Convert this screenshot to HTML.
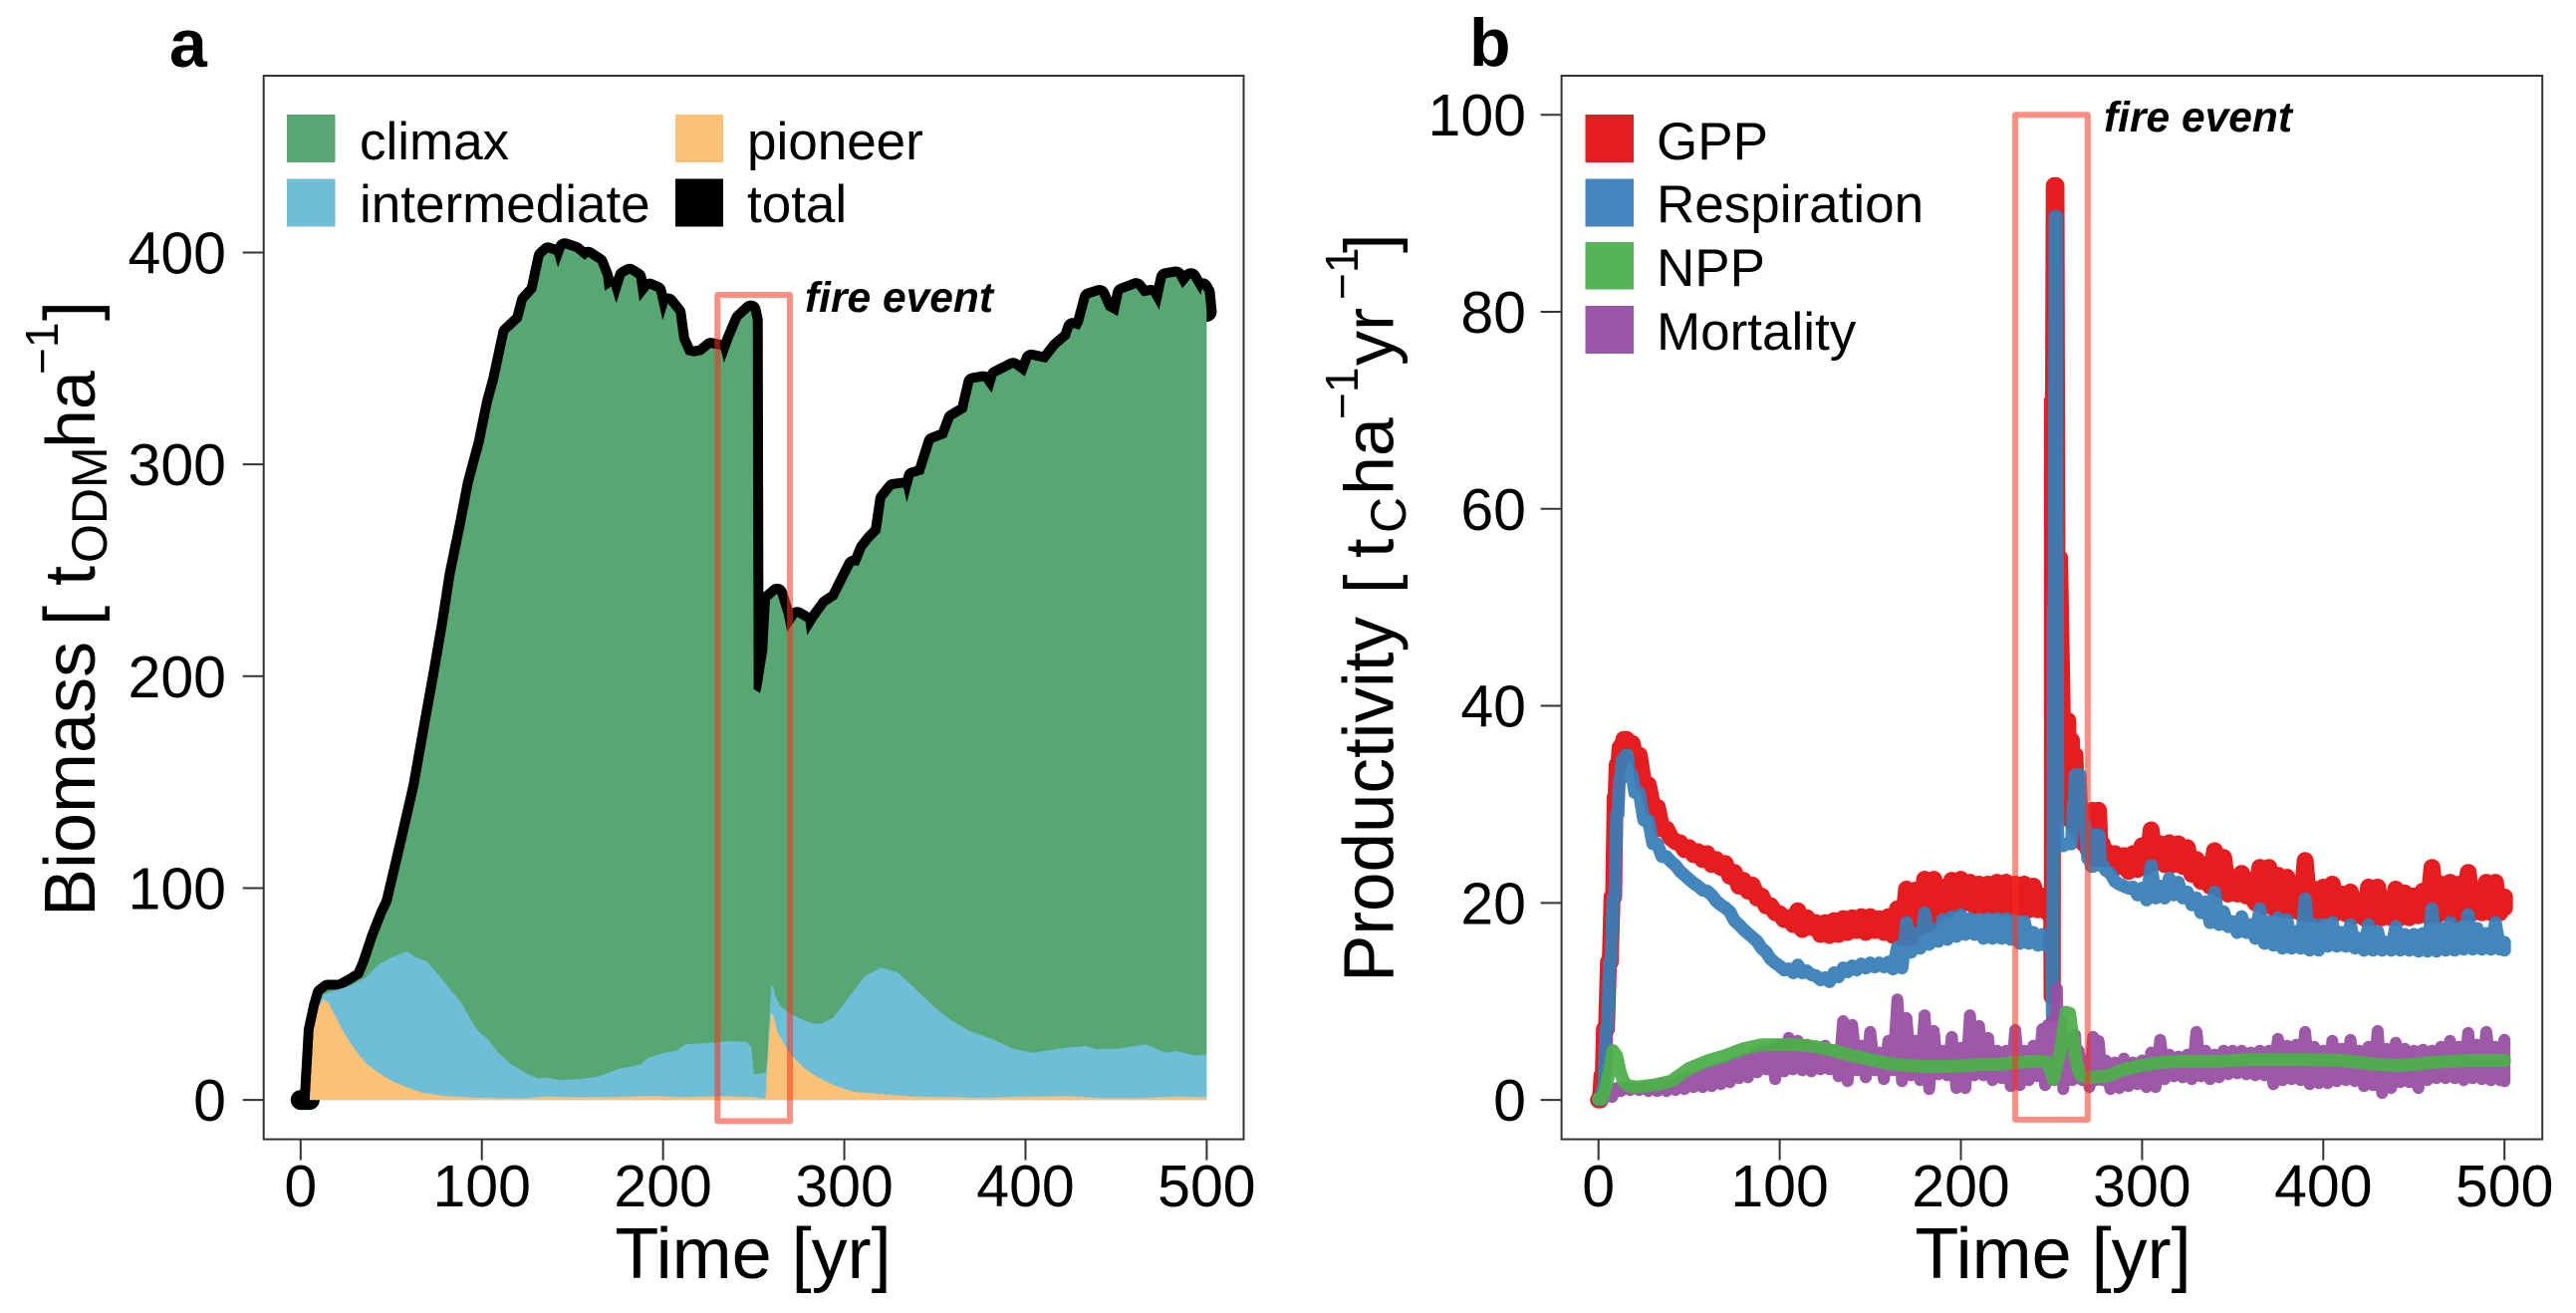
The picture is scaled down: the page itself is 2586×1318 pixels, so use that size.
<!DOCTYPE html>
<html lang="en">
<head>
<meta charset="utf-8">
<title>Biomass and productivity over time with fire event</title>
<style>
html,body{margin:0;padding:0;background:#fff}
svg{display:block}
text{font-family:"Liberation Sans",Arial,sans-serif;fill:#000}
.tick{font-size:59px}
.title{font-size:70px}
.xt{font-size:72px}
.leg{font-size:53px}
.fire{font-size:42.5px;font-weight:bold;font-style:italic}
.pl{font-size:68px;font-weight:bold}
</style>
</head>
<body>
<svg id="fig" xmlns="http://www.w3.org/2000/svg" width="2586" height="1318" viewBox="0 0 2586 1318">
<rect width="2586" height="1318" fill="#fff"/>
<g id="panelA"></g>
<g id="panelB"></g>

<text class="pl" x="170" y="67">a</text>
<text class="pl" x="1475" y="66">b</text>

<text class="xt" x="756" y="1283" text-anchor="middle">Time [yr]</text>
<text class="xt" x="2061" y="1283" text-anchor="middle">Time [yr]</text>

<g>
<text transform="translate(95,920) rotate(-90)" style="font-size:72px">Biomass</text>
<text transform="translate(95,628) rotate(-90)" style="font-size:72px">[</text>
<text transform="translate(95,588) rotate(-90)" style="font-size:72px">t</text>
<text transform="translate(107,565) rotate(-90)" style="font-size:50px">ODM</text>
<text transform="translate(95,450) rotate(-90)" style="font-size:70px">ha</text>
<text transform="translate(58,376) rotate(-90)" style="font-size:46px">−1</text>
<text transform="translate(95,322) rotate(-90)" style="font-size:72px">]</text>
</g>

<g>
<text transform="translate(1398.5,986) rotate(-90)" style="font-size:71px">Productivity</text>
<text transform="translate(1398.5,596) rotate(-90)" class="title">[</text>
<text transform="translate(1398.5,560) rotate(-90)" class="title">t</text>
<text transform="translate(1411,535) rotate(-90)" style="font-size:50px">C</text>
<text transform="translate(1398.5,497) rotate(-90)" class="title">ha</text>
<text transform="translate(1363,421) rotate(-90)" style="font-size:46px">−1</text>
<text transform="translate(1398.5,367) rotate(-90)" class="title">yr</text>
<text transform="translate(1363,301) rotate(-90)" style="font-size:46px">−1</text>
<text transform="translate(1398.5,254) rotate(-90)" class="title">]</text>
</g>

<g>
<g><rect x="288" y="115" width="48.5" height="48" fill="#57A773"/><text class="leg" x="361" y="160">climax</text></g>
<g><rect x="288" y="179.5" width="48.5" height="48" fill="#6DBED6"/><text class="leg" x="361" y="223">intermediate</text></g>
<g><rect x="678" y="115" width="48" height="48" fill="#FDC176"/><text class="leg" x="750" y="160">pioneer</text></g>
<g><rect x="678" y="179.5" width="48" height="48" fill="#000"/><text class="leg" x="750" y="223">total</text></g>
</g>

<g>
<g><rect x="1591.5" y="115" width="48.5" height="48" fill="#E61C1F"/><text class="leg" x="1663" y="160">GPP</text></g>
<g><rect x="1591.5" y="179.5" width="48.5" height="48" fill="#4485BD"/><text class="leg" x="1663" y="223">Respiration</text></g>
<g><rect x="1591.5" y="243" width="48.5" height="47.5" fill="#55B358"/><text class="leg" x="1663" y="287">NPP</text></g>
<g><rect x="1591.5" y="307" width="48.5" height="48" fill="#9C58A8"/><text class="leg" x="1663" y="351">Mortality</text></g>
</g>

<text class="fire" x="808" y="313">fire event</text>
<text class="fire" x="2112" y="132">fire event</text>
</svg>

<script>
// ---- shared axis data ----
const xTickValues = [0, 100, 200, 300, 400, 500];
const biomassTickValues = [0, 100, 200, 300, 400];
const productivityTickValues = [0, 20, 40, 60, 80, 100];
const fireWindow = [230, 270];
const fireBiomassRange = [-10, 380];
const fireProductivityRange = [-2, 100];

// ---- panel a: biomass ----
const totalYears = [0,5,7.2,10,12,15,22,28,34,37,42,47,50,58,65,72,76,81,85,91,95,101,105.5,109,114.5,122,124.7,130,134,136.6,140,142,145.8,151.3,156.8,158.6,164,166.9,167.8,171.4,174.2,178.8,181.5,185.2,187,192.5,196.2,199.8,202.6,207,209,212.7,217.2,221.8,226.4,231.9,233.7,238.3,242.9,248.4,249.5,250,253.5,254.5,257.5,259,263,266.7,268.5,274,278.6,279.5,285,290.5,296,299.7,305.2,308,311.6,315.3,319.9,322.6,327.2,332.7,334.5,338.2,343.7,349.2,356.5,360.2,367.5,371.2,376.7,381.3,384,393.2,399.6,403.2,411.5,417.9,424.3,426.2,429.8,431.6,435.3,440.8,444.5,450.9,453.6,461,464.6,469.2,473.8,477.5,483,486.6,491.2,496.7,497.6,499,500];
const totalBiomass = [0,0,33,44,50,52,52,54.8,58,64,76.8,87.7,93,122,148,182,201,226,248,273,291,310,329,340,362,368,377,382,398,400,399,393,402,400.4,396.5,398,395,388.7,382,384,376,388.7,390,388,377,383,381.6,368,376,371.4,358.9,351.8,351,351.8,355,354,348,359,368.3,372.7,368,194,192,196,212,236,239,228.8,221,228,225.7,219.4,227,233.5,236.6,243,252.3,252.3,260,264,268,283.6,288.4,289,282,294,295.4,310.3,312.7,321.3,325,338.5,339.3,333.8,341.6,345.6,341.6,349.5,348,355,359.7,364.4,363.6,366.7,378.5,380,373,370,380.8,383.2,379.3,380,373,387.9,388.7,383.2,387.9,380,383.2,381,372];

const intermediateYears = [5,7.2,10,11,12.7,20,28,35.6,43,50.3,58.6,64,69.5,76,83.3,88.8,94.3,98,103.4,109,116.3,125.4,131,136.4,142,153,164,175,187.7,191.4,200.6,207,212.5,226.2,237.2,246.4,248.8,250,256.5,257.4,258.8,259.8,261,262,264.7,268.4,272,282.1,287.6,294,303.2,311.4,320.6,329.8,339.8,349,358.2,369.2,382,393,404,418.6,433.3,438.8,451.6,466.3,477.3,482.8,493.8,500];
const intermediateTop = [0,33,44,47,49.8,52,54,57.6,63.9,67.3,70.1,67,65.4,59.2,51.3,45.8,37.2,32.5,28.6,22.3,16.8,12.1,10,10.6,9.3,9.8,10.9,14.5,16.8,19.7,22.3,23.1,26.3,27,27.8,27.3,24.7,12.1,12.9,17.6,41,54.5,53,49,44.3,41.9,39.9,36,36,38.8,49.3,58.4,62.5,60,52,44.3,38,32.5,28.6,24.2,22.3,24.2,25.5,23.9,24.2,26.3,22.3,23.1,21,21.5];

const pioneerYears = [5,7.2,10,12.7,15.5,19.2,22.8,27.4,32,36.6,43,50.3,57.6,66.8,79.6,98,123.6,134.6,153,171,189.6,198.7,208,235.4,248,256.5,257.4,258.8,259.6,261,262.9,268.4,272,277.5,284.9,294,305,321.5,339.8,358.2,376.5,394.8,424.1,440.6,464.5,482.8,500];
const pioneerTop = [0,33,44,47.7,45.8,39.6,33.3,27,21.5,16.8,12.9,9,6.3,3.5,1.9,1,.7,1.6,1.2,1.3,1.8,1.8,1.3,1.8,1.3,.7,14.5,33,40.8,39.6,32.5,23.9,20,15.3,10.9,7,3.8,2.7,1.5,1.3,.9,1.5,1.8,.9,.9,1.6,1.2];

// ---- panel b: productivity (upper and lower edge of the yearly oscillation) ----
const gppYears = [0,2,3.3,5.5,7.5,9.2,10.3,12,14,17,20,25,30,35,
40,45,50,55,60,65,70,75,80,85,90,95,100,105,110,115,120,125,130,135,140,145,150,155,160,165,170,175,180,185,190,195,200,205,210,215,220,225,230,235,240,245,
248,250,250.3,250.6,251.5,252,253,256,259,261,263,265,267,269,271,273,276,278,
280,285,290,295,300,305,310,315,320,325,330,335,340,345,350,355,360,365,370,375,380,385,390,395,400,405,410,415,420,425,430,435,440,445,450,455,460,465,470,475,480,485,490,495,500];
const gppUpper = [0,2.5,7.2,14,20.6,30.7,34,35.8,36.6,36.2,35,32,29.7,27.5,
26.6,26.1,25.6,25.2,25,24.4,24,23.1,22.3,21.8,20.7,19.7,18.9,18.5,19.2,18.5,18,18,18.2,18.4,18.5,18.6,18.6,18.4,18.6,19.4,21.4,21.3,22.4,22.4,21.6,22.3,22.4,22.1,21.9,21.9,22.1,22.1,21.9,21.9,21.7,20.7,
19,19,10.5,71,92.8,92.8,55,38.5,38.5,36.5,35,30.5,28,27,26,29.4,29.4,26,
25.3,25,24.8,25,25.8,27.4,26,26.1,26,25.6,24.4,23.9,25.3,24.6,22.6,23,22.3,23.6,23.6,22.8,22.6,21.8,24.3,21.4,21.6,21.9,20.9,21.1,20.2,21.6,21.6,20.2,21.4,21,20.7,21.2,23.6,21.9,22.1,21.9,23.1,21,22.1,22.1,20.6];
const gppLower = [0,2.5,7.2,14,20.6,30.7,34,35.8,36.6,36.2,35,32,29.7,27.5,
26.2,25.4,24.9,24.4,23.9,23.6,22.7,21.7,21.2,20.5,19.7,19,18.3,17.8,17.3,17.5,16.8,16.7,16.8,17,17.2,17,17.2,17,16.7,16.5,16.5,17.5,17.8,19,19.4,19.9,20,19.7,19.7,19.7,19.5,19.5,19.5,19.3,19.3,19.2,
19,19,10.5,71,92.8,92.8,55,30,28.5,28,27.5,27,26,25.5,25,24.5,24.5,24.5,
24.4,23.7,23.2,23.4,23.7,24.1,23.9,23.9,23.7,22.9,22.2,21.7,21.4,20.9,20.9,20.7,20,19.7,19.5,19.3,19.2,19,18.9,18.8,19.2,19,18.9,18.7,18.5,18.5,18.5,18.5,18.5,18.5,18.7,18.7,18.7,19,18.8,19,19,19,19,19,19.5];

const respirationYears = [0,2,4,6,8,10,11.5,13,15,17,20,25,30,35,
40,45,50,55,60,65,70,75,80,85,90,95,100,105,110,115,120,125,130,135,140,145,150,155,160,165,170,175,180,185,190,195,200,205,210,215,220,225,230,235,240,245,
248,249.5,250.5,251,252,252.3,253,253.5,255,258,260,262,263,264.5,267,270,272,274,275.5,277,
280,285,290,295,300,305,310,315,320,325,330,335,340,345,350,355,360,365,370,375,380,385,390,395,400,405,410,415,420,425,430,435,440,445,450,455,460,465,470,475,480,485,490,495,500];
const respirationUpper = [0,1,7.2,14,20.6,29,32.5,34.5,35,33,31.2,28.4,26,24.7,
24.2,23.2,22.4,21.7,21.2,20.2,19.5,18.2,17.3,16.5,15.4,14.3,13.6,13.3,13.7,13.1,12.6,12.4,12.9,13.4,13.6,13.8,13.9,13.9,14,15.5,18,16.9,19,17.3,18.3,18.6,18.8,18.4,18.3,18.4,18.4,18.4,18.2,18.1,17,16.8,
16.5,16.5,8.5,50,89.7,89.7,55,26,25.8,26,26,30,33,33,28,24.5,23.7,26.9,26.9,23.8,
23.3,22.2,21.7,21.6,21.5,23.8,21.7,22.5,22.1,21.1,20.5,20.1,21.1,19.1,18.1,18.6,17.8,19.4,18.1,18.5,18.3,17.1,20.4,17.8,17.8,18,17,17.8,16.4,17.8,17.1,16,17.6,16.8,16.8,16.9,19.4,17.4,18,17.5,18.8,17.4,16.9,18,16];
const respirationLower = [0,1,7.2,14,20.6,29,32.5,34.5,35,33,31.2,28.4,26,24.7,
23.8,22.8,22,21.3,20.8,19.8,19.1,17.8,16.9,16.1,15,13.9,13.2,12.9,12.9,12.7,12.2,12,12.5,13,13.2,13.4,13.5,13.5,13.3,13.4,15,15.4,15.8,16.1,16.3,16.6,16.8,16.8,16.4,16.4,16.4,16.3,15.9,15.9,15.7,15.7,
16.5,16.5,8.5,50,89.7,89.7,55,26,25.8,26,26,30,33,33,28,24.5,23.7,26.9,26.9,23.8,
23,21.9,21.5,20.8,20.3,20.5,20.5,20.8,20.5,19.8,19,18,17.8,17.6,17,17,16.4,15.9,15.7,15.4,15.4,15.4,15.2,15.2,15.6,15.6,15.6,15.4,15.2,15.2,15.2,15.2,15.2,15.2,15.1,15.1,15.1,15.2,15.2,15.3,15.3,15.3,15.3,15.3,15.2];

const mortalityYears = [0,5,10,15,20,25,30,35,40,45,50,55,60,65,70,75,80,85,90,95,100,105,110,115,120,125,130,135,140,145,150,155,160,165,170,175,180,185,190,195,200,205,210,215,220,225,230,235,240,245,
248,250,253,255,258,260,263,265,269,273,276,
280,285,290,295,300,305,310,315,320,325,330,335,340,345,350,355,360,365,370,375,380,385,390,395,400,405,410,415,420,425,430,435,440,445,450,455,460,465,470,475,480,485,490,495,500];
const mortalityUpper = [0,.6,1.2,1.4,1.3,1.3,1.5,1.6,1.8,2,2.3,2.6,2.9,3.2,3.5,3.9,4.3,4.6,5,5.2,5.6,6.3,6,5.6,5.3,5.5,5,8,7.6,5.5,6.9,4.8,6,10.2,8.3,6,8.6,7,5,6.4,5.3,8.6,7.5,6.3,5,5,7.1,5,5.5,7.2,
7.6,8,11.3,8,6,5.5,6.6,5,4,6.4,6,
4,3.8,4.2,3.8,4,4.8,6.1,4.6,4.4,4.6,6.9,5,4.6,5,5,5,4.8,5,5,6.2,5.5,5.6,6.9,5.4,5,6,5.2,6.1,5,5.4,7,5.2,5.8,5.2,5,5.1,5,5.4,6,5.4,6.8,5.6,6.9,5.4,6.1];
const mortalityLower = [0,.3,.9,1,1,.9,.9,.9,1,1.1,1.3,1.3,1.4,1.6,1.8,2.2,2.3,2.8,3.1,2.1,2.9,3.1,3,2.9,3.1,3.1,2.4,1.9,3,2.3,3,2.1,3,1.9,2.5,2,1.1,2.6,2.5,1.2,1.2,2.5,2.5,2,2.2,1.4,1.5,2,2.4,1.5,
2,2,2.2,1.1,2,2,2.2,2,1.3,2,2,
1.1,1.2,1.4,1.6,1.3,1.3,2.1,2.4,2.3,2.1,2.4,2.1,2.3,2.6,2.7,2.6,2.5,2.5,1.6,2,2.1,2,1.6,1.7,1.7,1.9,2,1.9,1.4,1.5,.7,1.2,1.8,1.8,1.2,2,2.2,2.2,2.2,2,2.2,2.1,2,2,1.9];

const nppYears = [0,2,4,6,8,10,12,14,16,20,25,30,40,
50,60,70,80,90,100,110,120,130,140,150,160,170,180,190,200,210,220,230,240,
245,248,251,255,258,260,262,264,266,270,
280,290,300,310,320,330,340,350,360,370,380,390,400,410,420,430,440,450,460,470,480,490,500];
const nppValues = [.1,.1,1.2,2.9,5,4.5,2.8,1.8,1.5,1.3,1.4,1.5,1.9,
3.2,3.95,4.5,5.2,5.6,5.6,5.6,5.4,5,4.5,4.1,3.7,3.5,3.4,3.4,3.45,3.6,3.6,3.8,3.9,
3.9,3.8,2.1,5,8.9,8.8,6,3.5,2.5,2.3,
2.4,3.1,3.5,3.8,3.9,3.9,3.9,4,4.1,4.1,4.1,4.1,4.05,4,3.8,3.6,3.5,3.6,3.8,3.9,4,4,4];

// ---- axis functions ----
function linear(d0, d1, r0, r1) { return function (v) { return r0 + (v - d0) * (r1 - r0) / (d1 - d0); }; }
const xA = linear(0, 500, 301.8, 1211.4);
const yA = linear(0, 400, 1104.1, 253.5);
const xB = linear(0, 500, 1604.7, 2514.2);
const yB = linear(0, 100, 1104.1, 115.2);
const NS = 'http://www.w3.org/2000/svg';

function mk(parent, tag, attrs, txt) {
  const el = document.createElementNS(NS, tag);
  for (const k in attrs) el.setAttribute(k, attrs[k]);
  if (txt !== undefined) el.textContent = txt;
  parent.appendChild(el);
  return el;
}
function linePath(ys, vs, sx, sy) {
  let d = '';
  for (let i = 0; i < ys.length; i++) d += (i ? 'L' : 'M') + sx(ys[i]).toFixed(1) + ' ' + sy(vs[i]).toFixed(1);
  return d;
}
function bandPath(ys, up, lo, sx, sy) {
  let d = '';
  for (let i = 0; i < ys.length; i++) {
    const next = i < ys.length - 1 ? ys[i + 1] : ys[i];
    d += (i ? 'L' : 'M') + sx(ys[i]).toFixed(1) + ' ' + sy(up[i]).toFixed(1);
    d += 'L' + sx((ys[i] + next) / 2).toFixed(1) + ' ' + sy(lo[i]).toFixed(1);
  }
  return d;
}
function areaPath(ys, vs, sx, sy) {
  return linePath(ys, vs, sx, sy) + 'L' + sx(ys[ys.length - 1]).toFixed(1) + ' ' + sy(0).toFixed(1) + 'L' + sx(ys[0]).toFixed(1) + ' ' + sy(0).toFixed(1) + 'Z';
}

// ---- panel a marks ----
const pa = document.getElementById('panelA');
const totalLine = mk(pa, 'path', {d: linePath(totalYears, totalBiomass, xA, yA), fill: 'none', stroke: '#000', 'stroke-width': 20, 'stroke-linejoin': 'round', 'stroke-linecap': 'round'});


const climaxArea = mk(pa, 'path', {d: areaPath(totalYears, totalBiomass, xA, yA), fill: '#57A773', stroke: 'none'});


const intermediateArea = mk(pa, 'path', {d: areaPath(intermediateYears, intermediateTop, xA, yA), fill: '#6DBED6'});


const pioneerArea = mk(pa, 'path', {d: areaPath(pioneerYears, pioneerTop, xA, yA), fill: '#FDC176'});


const fireA = mk(pa, 'rect', {x: xA(fireWindow[0]), y: yA(fireBiomassRange[1]), width: xA(fireWindow[1]) - xA(fireWindow[0]), height: yA(fireBiomassRange[0]) - yA(fireBiomassRange[1]), fill: 'none', stroke: 'rgb(250,50,30)', 'stroke-opacity': .55, 'stroke-width': 6, 'stroke-linejoin': 'round'});



// ---- panel b marks ----
const pb = document.getElementById('panelB');
function seriesStyle(color, width, op) {
  return {fill: 'none', stroke: color, 'stroke-width': width, 'stroke-opacity': op, 'stroke-linejoin': 'round', 'stroke-linecap': 'round'};
}
const gppLine = mk(pb, 'path', Object.assign({d: bandPath(gppYears, gppUpper, gppLower, xB, yB)}, seriesStyle('#E61C1F', 17, 1)));


const respirationLine = mk(pb, 'path', Object.assign({d: bandPath(respirationYears, respirationUpper, respirationLower, xB, yB)}, seriesStyle('#377EB8', 13, .94)));


const mortalityLine = mk(pb, 'path', Object.assign({d: bandPath(mortalityYears, mortalityUpper, mortalityLower, xB, yB)}, seriesStyle('#984EA3', 12, .94)));


const nppLine = mk(pb, 'path', Object.assign({d: linePath(nppYears, nppValues, xB, yB)}, seriesStyle('#4DAF4A', 13, .94)));


const fireB = mk(pb, 'rect', {x: xB(fireWindow[0]), y: yB(fireProductivityRange[1]), width: xB(fireWindow[1]) - xB(fireWindow[0]), height: yB(fireProductivityRange[0]) - yB(fireProductivityRange[1]), fill: 'none', stroke: 'rgb(250,50,30)', 'stroke-opacity': .55, 'stroke-width': 6, 'stroke-linejoin': 'round'});



// ---- frames, ticks and tick labels ----
function drawAxes(group, left, right, top, bottom, sx, sy, yTicks, labelRight) {
  const frame = mk(group, 'rect', {x: left, y: top, width: right - left, height: bottom - top, fill: 'none', stroke: '#333', 'stroke-width': 2});
  
  
  xTickValues.forEach(function (v) {
    const t = mk(group, 'line', {x1: sx(v), x2: sx(v), y1: bottom, y2: bottom + 21, stroke: '#333', 'stroke-width': 2});
    
    
    const l = mk(group, 'text', {class: 'tick', x: sx(v), y: 1211, 'text-anchor': 'middle'}, String(v));
    
    
  });
  yTicks.forEach(function (v) {
    const t = mk(group, 'line', {x1: left - 21, x2: left, y1: sy(v), y2: sy(v), stroke: '#333', 'stroke-width': 2});
    
    
    const l = mk(group, 'text', {class: 'tick', x: labelRight, y: sy(v) + 21, 'text-anchor': 'end'}, String(v));
    
    
  });
}
drawAxes(pa, 264.7, 1248.5, 76, 1143.6, xA, yA, biomassTickValues, 227);
drawAxes(pb, 1567.6, 2552.2, 76, 1143.6, xB, yB, productivityTickValues, 1532);
</script>
</body>
</html>
